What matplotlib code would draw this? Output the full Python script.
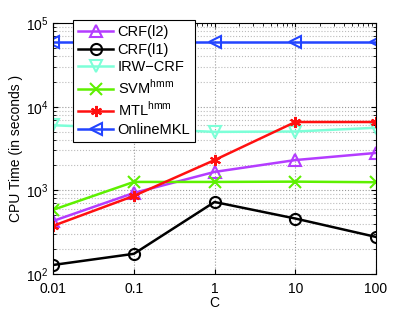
import matplotlib
matplotlib.use('Agg')
import matplotlib.pyplot as plt
from matplotlib.ticker import LogLocator, NullFormatter

plt.rcParams['font.family'] = ['Liberation Sans', 'DejaVu Sans']

C = [0.01, 0.1, 1, 10, 100]
xticklabels = ['0.01', '0.1', '1', '10', '100']

crf_l2 = [430, 930, 1660, 2300, 2800]
crf_l1 = [128, 174, 725, 460, 277]
irw_crf = [6000, 5500, 5000, 5050, 5600]
svm_hmm = [585, 1260, 1260, 1270, 1250]
mtl_hmm = [376, 857, 2300, 6560, 6560]
online_mkl = [59000, 59000, 59000, 59000, 59000]

series = [
    ('CRF(l2)', crf_l2, '#b43cff', '^'),
    ('CRF(l1)', crf_l1, 'black', 'o'),
    ('IRW\u2212CRF', irw_crf, '#7dffd8', 'v'),
    ('SVM$^{\\mathregular{hmm}}$', svm_hmm, '#5ef000', 'x'),
    ('MTL$^{\\mathregular{hmm}}$', mtl_hmm, '#ff1010', (6, 2, 0)),
    ('OnlineMKL', online_mkl, '#2244ff', '<'),
]

fig = plt.figure(figsize=(4.15, 3.12), dpi=100)
ax = fig.add_axes([0.128, 0.122, 0.778, 0.804])

for label, vals, col, mk in series:
    ax.plot(C, vals, color=col, marker=mk, markersize=8, markerfacecolor='none',
            markeredgecolor=col, markeredgewidth=1.5, linewidth=1.8, label=label)

ax.set_xscale('log')
ax.set_yscale('log')
ax.set_xlim(0.01, 100)
ax.set_ylim(100, 1e5)
ax.set_xticks(C)
ax.set_xticklabels(xticklabels)
ax.xaxis.set_minor_formatter(NullFormatter())
ax.tick_params(axis='x', which='minor', bottom=False, top=False)
ax.yaxis.set_minor_locator(LogLocator(base=10, subs=range(2, 10)))
ax.tick_params(which='both', direction='in', top=True, right=True, labelsize=10)
ax.tick_params(axis='x', pad=6)
ax.grid(True, which='major', linestyle=':', color='#999999', linewidth=0.8)
ax.grid(True, which='minor', axis='y', linestyle=':', color='#bbbbbb', linewidth=0.8)

ax.set_xlabel('C', fontsize=10, labelpad=0)
ax.set_ylabel('CPU Time (in seconds )', fontsize=10, labelpad=2)

leg = ax.legend(loc='upper left', bbox_to_anchor=(0.062, 1.012), borderaxespad=0,
                fontsize=10.5, frameon=True, fancybox=False, framealpha=1,
                edgecolor='black', handlelength=2.4, borderpad=0.35,
                labelspacing=0.25, handletextpad=0.3)
leg.get_frame().set_linewidth(0.8)

fig.savefig('out.png', dpi=100)
